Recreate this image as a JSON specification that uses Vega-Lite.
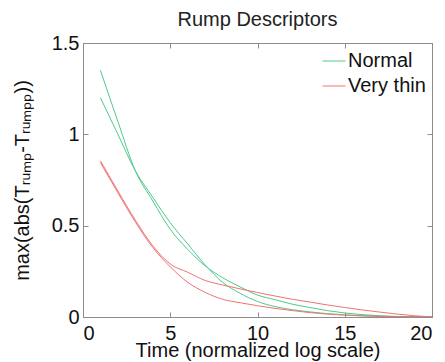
{
  "$schema": "https://vega.github.io/schema/vega-lite/v6.json",
  "width": 349,
  "height": 274,
  "autosize": {"type": "none"},
  "padding": {"left": 83, "top": 43, "right": 13, "bottom": 45},
  "background": "white",
  "config": {
    "font": "Liberation Sans",
    "view": {"stroke": "#8c8c8c", "strokeWidth": 1}
  },
  "title": {"text": "Rump Descriptors", "fontSize": 20, "fontWeight": "normal", "color": "#222222", "offset": 3},
  "datasets": {
    "curves": [
      {"x":1,"y":1.35,"group":"Normal","run":"N1"},{"x":2,"y":1.07,"group":"Normal","run":"N1"},{"x":3,"y":0.80,"group":"Normal","run":"N1"},{"x":4,"y":0.635,"group":"Normal","run":"N1"},{"x":5,"y":0.48,"group":"Normal","run":"N1"},{"x":6,"y":0.37,"group":"Normal","run":"N1"},{"x":7,"y":0.28,"group":"Normal","run":"N1"},{"x":8,"y":0.215,"group":"Normal","run":"N1"},{"x":9,"y":0.165,"group":"Normal","run":"N1"},{"x":10,"y":0.12,"group":"Normal","run":"N1"},{"x":11,"y":0.095,"group":"Normal","run":"N1"},{"x":12,"y":0.07,"group":"Normal","run":"N1"},{"x":13,"y":0.052,"group":"Normal","run":"N1"},{"x":14,"y":0.035,"group":"Normal","run":"N1"},{"x":15,"y":0.022,"group":"Normal","run":"N1"},{"x":16,"y":0.013,"group":"Normal","run":"N1"},{"x":17,"y":0.007,"group":"Normal","run":"N1"},{"x":18,"y":0.003,"group":"Normal","run":"N1"},{"x":19,"y":0.001,"group":"Normal","run":"N1"},{"x":20,"y":0,"group":"Normal","run":"N1"},
      {"x":1,"y":1.20,"group":"Normal","run":"N2"},{"x":2,"y":1.0,"group":"Normal","run":"N2"},{"x":3,"y":0.80,"group":"Normal","run":"N2"},{"x":4,"y":0.655,"group":"Normal","run":"N2"},{"x":5,"y":0.516,"group":"Normal","run":"N2"},{"x":6,"y":0.40,"group":"Normal","run":"N2"},{"x":7,"y":0.285,"group":"Normal","run":"N2"},{"x":8,"y":0.19,"group":"Normal","run":"N2"},{"x":9,"y":0.13,"group":"Normal","run":"N2"},{"x":10,"y":0.085,"group":"Normal","run":"N2"},{"x":11,"y":0.057,"group":"Normal","run":"N2"},{"x":12,"y":0.04,"group":"Normal","run":"N2"},{"x":13,"y":0.028,"group":"Normal","run":"N2"},{"x":14,"y":0.018,"group":"Normal","run":"N2"},{"x":15,"y":0.012,"group":"Normal","run":"N2"},{"x":16,"y":0.007,"group":"Normal","run":"N2"},{"x":17,"y":0.004,"group":"Normal","run":"N2"},{"x":18,"y":0.002,"group":"Normal","run":"N2"},{"x":19,"y":0.001,"group":"Normal","run":"N2"},{"x":20,"y":0,"group":"Normal","run":"N2"},
      {"x":1,"y":0.855,"group":"Very thin","run":"V1"},{"x":2,"y":0.69,"group":"Very thin","run":"V1"},{"x":3,"y":0.53,"group":"Very thin","run":"V1"},{"x":4,"y":0.39,"group":"Very thin","run":"V1"},{"x":5,"y":0.29,"group":"Very thin","run":"V1"},{"x":6,"y":0.245,"group":"Very thin","run":"V1"},{"x":7,"y":0.2,"group":"Very thin","run":"V1"},{"x":8,"y":0.175,"group":"Very thin","run":"V1"},{"x":9,"y":0.154,"group":"Very thin","run":"V1"},{"x":10,"y":0.134,"group":"Very thin","run":"V1"},{"x":11,"y":0.115,"group":"Very thin","run":"V1"},{"x":12,"y":0.097,"group":"Very thin","run":"V1"},{"x":13,"y":0.082,"group":"Very thin","run":"V1"},{"x":14,"y":0.066,"group":"Very thin","run":"V1"},{"x":15,"y":0.052,"group":"Very thin","run":"V1"},{"x":16,"y":0.039,"group":"Very thin","run":"V1"},{"x":17,"y":0.027,"group":"Very thin","run":"V1"},{"x":18,"y":0.016,"group":"Very thin","run":"V1"},{"x":19,"y":0.007,"group":"Very thin","run":"V1"},{"x":20,"y":0,"group":"Very thin","run":"V1"},
      {"x":1,"y":0.845,"group":"Very thin","run":"V2"},{"x":2,"y":0.68,"group":"Very thin","run":"V2"},{"x":3,"y":0.52,"group":"Very thin","run":"V2"},{"x":4,"y":0.38,"group":"Very thin","run":"V2"},{"x":5,"y":0.275,"group":"Very thin","run":"V2"},{"x":6,"y":0.19,"group":"Very thin","run":"V2"},{"x":7,"y":0.135,"group":"Very thin","run":"V2"},{"x":8,"y":0.097,"group":"Very thin","run":"V2"},{"x":9,"y":0.078,"group":"Very thin","run":"V2"},{"x":10,"y":0.062,"group":"Very thin","run":"V2"},{"x":11,"y":0.047,"group":"Very thin","run":"V2"},{"x":12,"y":0.035,"group":"Very thin","run":"V2"},{"x":13,"y":0.024,"group":"Very thin","run":"V2"},{"x":14,"y":0.016,"group":"Very thin","run":"V2"},{"x":15,"y":0.01,"group":"Very thin","run":"V2"},{"x":16,"y":0.006,"group":"Very thin","run":"V2"},{"x":17,"y":0.003,"group":"Very thin","run":"V2"},{"x":18,"y":0.002,"group":"Very thin","run":"V2"},{"x":19,"y":0.001,"group":"Very thin","run":"V2"},{"x":20,"y":0,"group":"Very thin","run":"V2"}
    ]
  },
  "data": {"name": "curves"},
  "layer": [
    {
      "mark": {"type": "line", "strokeWidth": 1, "interpolate": "monotone", "clip": true},
      "encoding": {
        "x": {
          "field": "x", "type": "quantitative",
          "scale": {"domain": [0, 20], "nice": false, "zero": false},
          "axis": {
            "values": [0, 5, 10, 15, 20], "grid": false, "tickSize": -5,
            "domainColor": "#8c8c8c", "tickColor": "#8c8c8c",
            "labelFontSize": 20, "labelColor": "#111111", "labelPadding": 11,
            "title": "Time (normalized log scale)", "titleFontSize": 20,
            "titleFontWeight": "normal", "titleColor": "#111111", "titlePadding": -3
          }
        },
        "y": {
          "field": "y", "type": "quantitative",
          "scale": {"domain": [0, 1.5], "nice": false},
          "axis": {
            "values": [0, 0.5, 1, 1.5], "format": "~g", "grid": false, "tickSize": -5,
            "domainColor": "#8c8c8c", "tickColor": "#8c8c8c",
            "labelFontSize": 20, "labelColor": "#111111", "labelPadding": 9,
            "title": "max(abs(Tᵣᵤₘₚ-Tᵣᵤₘₚₚ))", "titleFontSize": 20,
            "titleFontWeight": "normal", "titleColor": "#111111", "titlePadding": 19
          }
        },
        "color": {
          "field": "group", "type": "nominal",
          "scale": {"domain": ["Normal", "Very thin"], "range": ["#4fc98a", "#f07272"]},
          "legend": {
            "title": null, "orient": "top-right", "offset": 6,
            "symbolType": "stroke", "symbolSize": 529, "symbolStrokeWidth": 1,
            "labelFontSize": 20, "labelColor": "#111111", "rowPadding": 3,
            "labelOffset": 2, "padding": 0
          }
        },
        "detail": {"field": "run", "type": "nominal"}
      }
    },
    {
      "mark": {"type": "point", "opacity": 0},
      "encoding": {
        "x": {
          "field": "x", "type": "quantitative",
          "scale": {"domain": [0, 20], "nice": false, "zero": false},
          "axis": {"orient": "top", "values": [0, 5, 10, 15, 20], "labels": false, "title": null, "grid": false, "tickSize": -5, "domainColor": "#8c8c8c", "tickColor": "#8c8c8c"}
        },
        "y": {
          "field": "y", "type": "quantitative",
          "scale": {"domain": [0, 1.5], "nice": false},
          "axis": {"orient": "right", "values": [0, 0.5, 1, 1.5], "labels": false, "title": null, "grid": false, "tickSize": -5, "domainColor": "#8c8c8c", "tickColor": "#8c8c8c"}
        }
      }
    }
  ],
  "resolve": {"scale": {"x": "independent", "y": "independent"}, "axis": {"x": "independent", "y": "independent"}}
}
